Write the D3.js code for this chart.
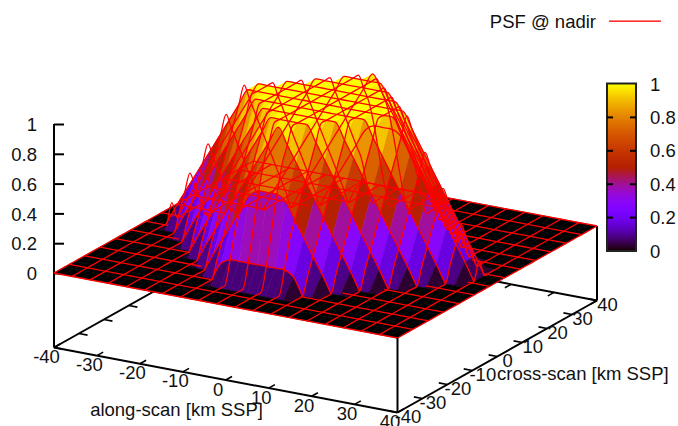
<!DOCTYPE html>
<html><head><meta charset="utf-8">
<script src="https://cdn.jsdelivr.net/npm/d3@7"></script>
<style>html,body{margin:0;padding:0;background:#fff}svg{display:block}text{font-family:"Liberation Sans",Arial,sans-serif;font-size:18.5px;fill:#111}</style>
</head><body><svg id="c" width="678" height="426"></svg>
<script>
// node positions (km) on the positive half of each axis
const xNodes=[0,2.105,4.21,6.316,8.421,10.526,12.632,14.737,16.842,18.947,21.053,23.158,25.263,27.368,29.474,31.579,33.684,35.789,37.895,40];
const yNodes=[0,2.105,4.21,6.316,8.421,10.526,12.632,14.737,16.842,18.947,21.053,23.158,25.263,27.368,29.474,31.579,33.684,35.789,37.895,40];
// flat floor rows of the red mesh, where z = 0, and the half-width (km) of the raised part each one skips
const floorRows=[-40,-33.85,-27.69,-21.54,-15.38,-9.23,-3.08,3.08,9.23,15.38,21.54,27.69,33.85,40];
const floorGaps=[0,0,10.3,16.5,22.6,28.8,34.9,34.9,28.8,22.6,16.5,10.3,0,0];
// PSF response: one quadrant, rows = yNodes, columns = xNodes
const psfQuadrant=[
[1,1,1,1,1,1,1,1,1,1,.89,.78,.67,.56,.45,.34,.23,.12,0,0],
[1,1,1,1,1,1,1,1,1,.89,.78,.67,.56,.45,.34,.23,.12,0,0,0],
[1,1,1,1,1,1,1,1,.89,.78,.67,.56,.45,.34,.23,.12,0,0,0,0],
[1,1,1,1,1,1,1,.89,.78,.67,.56,.45,.34,.23,.12,0,0,0,0,0],
[1,1,1,1,1,1,.89,.78,.67,.56,.45,.34,.23,.12,0,0,0,0,0,0],
[1,1,1,1,1,.89,.78,.67,.56,.45,.34,.23,.12,0,0,0,0,0,0,0],
[1,1,1,1,.89,.78,.67,.56,.45,.34,.23,.12,0,0,0,0,0,0,0,0],
[1,1,1,.89,.78,.67,.56,.45,.34,.23,.12,0,0,0,0,0,0,0,0,0],
[1,1,.89,.78,.67,.56,.45,.34,.23,.12,0,0,0,0,0,0,0,0,0,0],
[1,.89,.78,.67,.56,.45,.34,.23,.12,0,0,0,0,0,0,0,0,0,0,0],
[.80,.78,.67,.56,.45,.34,.23,.12,0,0,0,0,0,0,0,0,0,0,0,0],
[.60,.60,.56,.45,.34,.23,.12,0,0,0,0,0,0,0,0,0,0,0,0,0],
[.375,.375,.375,.34,.23,.12,0,0,0,0,0,0,0,0,0,0,0,0,0,0],
[.155,.155,.155,.155,.12,0,0,0,0,0,0,0,0,0,0,0,0,0,0,0],
[0,0,0,0,0,0,0,0,0,0,0,0,0,0,0,0,0,0,0,0],
[0,0,0,0,0,0,0,0,0,0,0,0,0,0,0,0,0,0,0,0],
[0,0,0,0,0,0,0,0,0,0,0,0,0,0,0,0,0,0,0,0],
[0,0,0,0,0,0,0,0,0,0,0,0,0,0,0,0,0,0,0,0],
[0,0,0,0,0,0,0,0,0,0,0,0,0,0,0,0,0,0,0,0],
[0,0,0,0,0,0,0,0,0,0,0,0,0,0,0,0,0,0,0,0]];
const xTicks=[-40,-30,-20,-10,0,10,20,30,40];
const yTicks=[-40,-30,-20,-10,0,10,20,30,40];
const zTicks=[0,.2,.4,.6,.8,1];
const cbTicks=[0,.2,.4,.6,.8,1];
const xTitle="along-scan [km SSP]",yTitle="cross-scan [km SSP]",legendLabel="PSF @ nadir";

const svg=d3.select("#c");
const xH=d3.scaleLinear([-40,40],[0,343.5]),xV=d3.scaleLinear([-40,40],[0,65]);
const yH=d3.scaleLinear([-40,40],[0,199.5]),yV=d3.scaleLinear([-40,40],[0,-112]);
const zS=d3.scaleLinear([0,1],[273,124]);
const px=(x,y)=>54+xH(x)+yH(y), py=(x,y,z)=>zS(z)+xV(x)+yV(y);
const palette=t=>{t=Math.max(0,Math.min(1,t));
  const b=Math.max(0,Math.sin(2*Math.PI*t));
  return d3.rgb(255*Math.sqrt(t),255*t*t*t,255*b).formatHex();};
const mir=a=>[...a.slice(1).reverse().map(v=>-v),...a];
const X=mir(xNodes),Y=mir(yNodes);
const mirRow=r=>[...r.slice(1).reverse(),...r];
const Z=[...psfQuadrant.slice(1).reverse(),...psfQuadrant].map(mirRow);
const isRow=i=>i%2==0;   // mesh rows: every second y node, starting at -40
const isCol=j=>j%2==0;   // mesh columns: every second x node, starting at -40

const black="#000",base=-.5;
const line3=(g,a,b,w=2)=>g.append("line").attr("x1",px(a[0],a[1])).attr("y1",py(a[0],a[1],a[2]))
  .attr("x2",px(b[0],b[1])).attr("y2",py(b[0],b[1],b[2])).attr("stroke",black).attr("stroke-width",w);

// rear axes + ticks, below the surface
const rear=svg.append("g");
line3(rear,[-40,-40,base],[-40,40,base]);
line3(rear,[-40,40,base],[40,40,base]);
yTicks.forEach(t=>line3(rear,[-40,t,base],[-38,t,base],1.6));
xTicks.forEach(t=>line3(rear,[t,40,base],[t,37.5,base],1.6));

// z axis
const zG=svg.append("g").attr("transform","translate(54,0)")
 .call(d3.axisLeft(zS).tickValues(zTicks).tickFormat(d=>d).tickSizeInner(-10).tickSizeOuter(0).tickPadding(17));
zG.select(".domain").remove();
zG.selectAll("line").attr("stroke",black).attr("stroke-width",2);
zG.selectAll("text").attr("dy",".36em");
line3(svg,[-40,-40,base],[-40,-40,1]);
line3(svg,[40,40,base],[40,40,0]);

// surface facets span neighbouring mesh rows, far to near
const rows=d3.range(Y.length).filter(isRow);
const quads=[];
for(let r=0;r<rows.length-1;r++)for(let j=0;j<X.length-1;j++){
  const i0=rows[r],i1=rows[r+1];
  const c=[[j,i0],[j+1,i0],[j+1,i1],[j,i1]];
  quads.push({pts:c.map(([a,b])=>[px(X[a],Y[b]),py(X[a],Y[b],Z[b][a])]),
    z:d3.mean(c,([a,b])=>Z[b][a]),d:X[j]-Y[i0]});
}
quads.sort((a,b)=>a.d-b.d);
svg.append("g").selectAll("polygon").data(quads).join("polygon")
 .attr("points",d=>d.pts.join(" ")).attr("fill",d=>palette(d.z)).attr("stroke",d=>palette(d.z)).attr("stroke-width",.6);

// mesh lines, no hidden-line removal
const mesh=svg.append("g").attr("fill","none").attr("stroke","#f00").attr("stroke-width",1.3);
const path=d3.line().x(d=>d[0]).y(d=>d[1]).curve(d3.curveMonotoneX);
floorRows.forEach((y,k)=>{const g=floorGaps[k];
  const spans=g>0?[[-40,-g],[g,40]]:[[-40,40]];
  spans.forEach(s=>mesh.append("path").attr("d",path(s.map(x=>[px(x,y),py(x,y,0)]))));});
Y.forEach((y,i)=>{ if(!isRow(i))return;
  const on=d3.range(X.length).filter(j=>Z[i][j]>0);
  if(!on.length)return;
  const a=Math.max(0,on[0]-1),b=Math.min(X.length-1,on[on.length-1]+1);
  mesh.append("path").attr("d",path(d3.range(a,b+1).map(j=>[px(X[j],y),py(X[j],y,Z[i][j])])));});
X.forEach((x,j)=>{ if(isCol(j))
  mesh.append("path").attr("d",path(Y.map((y,i)=>[px(x,y),py(x,y,Z[i][j])])));});

// front axes
const front=svg.append("g");
line3(front,[-40,-40,base],[40,-40,base]);
line3(front,[40,-40,base],[40,40,base]);
line3(front,[40,-40,base],[40,-40,0]);
xTicks.forEach(t=>line3(front,[t,-40,base],[t,-37.5,base],1.6));
yTicks.forEach(t=>line3(front,[40,t,base],[38,t,base],1.6));
const lab=(s,x,y,a)=>svg.append("text").attr("x",x).attr("y",y).attr("text-anchor",a||"middle").text(s);
xTicks.forEach(t=>lab(t,px(t,-40)-7.5,py(t,-40,base)+15.5));
yTicks.forEach(t=>lab(t,px(40,t)+10.5,py(40,t,base)+10.5));
lab(xTitle,176.5,415.5);
lab(yTitle,497,379.5,"start");

// colour box
const cb=d3.scaleLinear([0,1],[251,84]);
const cbG=svg.append("g");
cbG.selectAll("rect").data(d3.range(0,1,1/167)).join("rect")
 .attr("x",607).attr("width",29).attr("y",d=>cb(d)-1).attr("height",1.5).attr("fill",palette);
cbG.append("rect").attr("x",607).attr("y",83.5).attr("width",29).attr("height",167.5).attr("fill","none").attr("stroke","#222").attr("stroke-width",2);
cbTicks.forEach(t=>{ if(t>0&&t<1){
  cbG.append("line").attr("x1",607).attr("x2",613).attr("y1",cb(t)).attr("y2",cb(t)).attr("stroke",black).attr("stroke-width",2);
  cbG.append("line").attr("x1",630).attr("x2",636).attr("y1",cb(t)).attr("y2",cb(t)).attr("stroke",black).attr("stroke-width",2);}
  lab(t,650,cb(t)+6.5,"start");});

// key
lab(legendLabel,596,28,"end");
svg.append("rect").attr("x",609).attr("width",52).attr("y",20.5).attr("height",1.3).attr("fill","#ff0000");
</script></body></html>
